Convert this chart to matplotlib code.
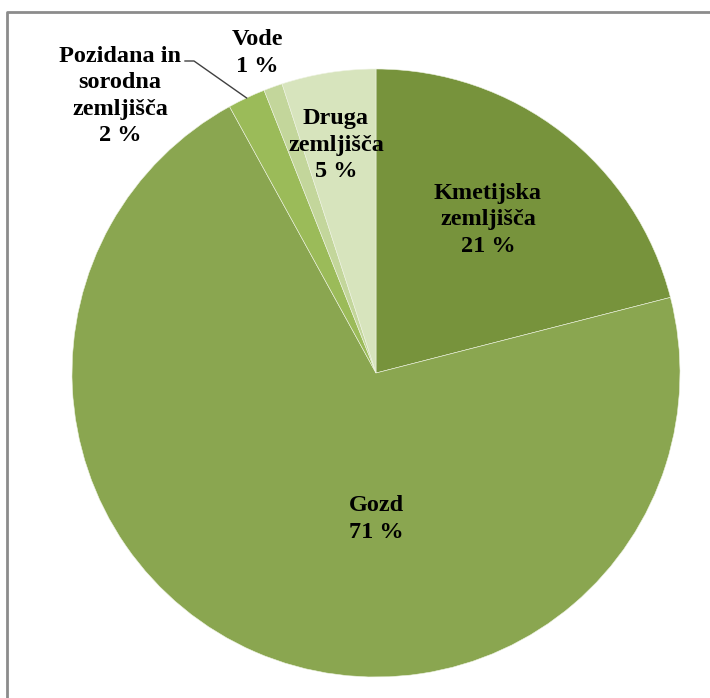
import numpy as np
import matplotlib.pyplot as plt

# DATA
labels = ['Kmetijska\nzemljišča', 'Gozd', 'Pozidana in\nsorodna\nzemljišča', 'Vode', 'Druga\nzemljišča']
shares = [21, 71, 2, 1, 5]
colors = ['#77933C', '#8AA650', '#9BBB59', '#C3D69B', '#D7E4BD']

# label anchors (image pixels, y downwards)
label_pos = [(488, 220), (376, 519), (120, 96), (257, 53), (336, 145)]

W, H = 710, 698
cx, cy, r = 376, H - 373, 304

plt.rcParams['font.family'] = ['Liberation Serif', 'DejaVu Serif']

fig = plt.figure(figsize=(W / 100, H / 100), dpi=100)
ax = fig.add_axes([0, 0, 1, 1])

wedges, _ = ax.pie(shares, colors=colors, startangle=90, counterclock=False,
                   center=(cx, cy), radius=r,
                   wedgeprops=dict(linewidth=0.4, edgecolor='#EEF3E2'))
ax.set_xlim(0, W)
ax.set_ylim(0, H)
ax.set_aspect('equal')
ax.axis('off')

for lab, val, (x, y) in zip(labels, shares, label_pos):
    ax.text(x, H - y, f'{lab}\n{val} %', ha='center', va='center',
            fontsize=17.5, fontweight='bold', linespacing=1.32, color='black')

# leader line for the small "Pozidana" slice
w = wedges[2]
mid = np.deg2rad((w.theta1 + w.theta2) / 2)
ex, ey = cx + r * np.cos(mid), cy + r * np.sin(mid)
ax.plot([185, 194, ex], [H - 61, H - 61, ey], color='#404040', lw=1)

# chart frame (left and top edges only are inside the picture)
ax.plot([7, 7, W + 5], [-5, H - 12, H - 12], color='#8C8C8C', lw=2, clip_on=False)

fig.savefig('out.png', dpi=100)
